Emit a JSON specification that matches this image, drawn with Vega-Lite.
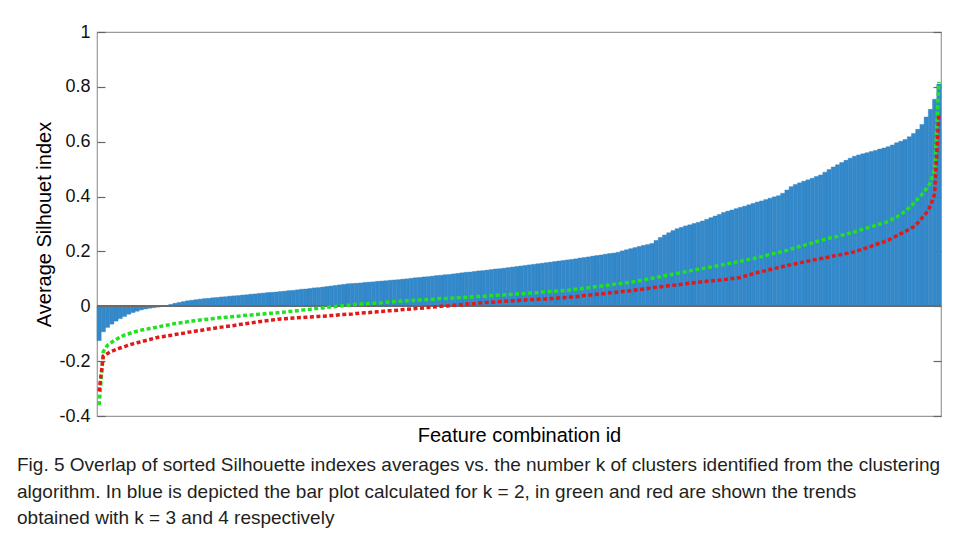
{
  "$schema": "https://vega.github.io/schema/vega-lite/v6.json",
  "width": 844,
  "height": 384,
  "autosize": {"type": "none"},
  "padding": {"left": 97, "top": 32, "right": 15, "bottom": 122},
  "background": "white",
  "config": {"view": {"stroke": "#9a9a9a", "strokeWidth": 1.2}},
  "title": {
    "text": [
      "Fig. 5  Overlap of sorted Silhouette indexes averages vs. the number k of clusters identified from the clustering",
      "algorithm. In blue is depicted the bar plot calculated for k = 2, in green and red are shown the trends",
      "obtained with k = 3 and 4 respectively"
    ],
    "orient": "bottom",
    "anchor": "start",
    "frame": "group",
    "dx": -80,
    "offset": 11,
    "baseline": "top",
    "font": "Liberation Sans",
    "fontSize": 19,
    "fontWeight": "normal",
    "lineHeight": 26.5,
    "color": "#231f20"
  },
  "data": {"values": [
    {"id":1,"k2":-0.125,"k3":-0.36,"k4":-0.31},
    {"id":2,"k2":-0.093,"k3":-0.165,"k4":-0.181},
    {"id":3,"k2":-0.077,"k3":-0.142,"k4":-0.172},
    {"id":4,"k2":-0.065,"k3":-0.131,"k4":-0.164},
    {"id":5,"k2":-0.054,"k3":-0.121,"k4":-0.158},
    {"id":6,"k2":-0.045,"k3":-0.112,"k4":-0.152},
    {"id":7,"k2":-0.037,"k3":-0.105,"k4":-0.147},
    {"id":8,"k2":-0.029,"k3":-0.100,"k4":-0.142},
    {"id":9,"k2":-0.023,"k3":-0.095,"k4":-0.137},
    {"id":10,"k2":-0.018,"k3":-0.091,"k4":-0.133},
    {"id":11,"k2":-0.013,"k3":-0.087,"k4":-0.129},
    {"id":12,"k2":-0.010,"k3":-0.084,"k4":-0.125},
    {"id":13,"k2":-0.007,"k3":-0.081,"k4":-0.121},
    {"id":14,"k2":-0.005,"k3":-0.078,"k4":-0.117},
    {"id":15,"k2":-0.003,"k3":-0.075,"k4":-0.113},
    {"id":16,"k2":0.000,"k3":-0.072,"k4":-0.111},
    {"id":17,"k2":0.003,"k3":-0.069,"k4":-0.108},
    {"id":18,"k2":0.007,"k3":-0.066,"k4":-0.106},
    {"id":19,"k2":0.011,"k3":-0.063,"k4":-0.103},
    {"id":20,"k2":0.014,"k3":-0.061,"k4":-0.100},
    {"id":21,"k2":0.017,"k3":-0.059,"k4":-0.098},
    {"id":22,"k2":0.020,"k3":-0.056,"k4":-0.095},
    {"id":23,"k2":0.022,"k3":-0.054,"k4":-0.093},
    {"id":24,"k2":0.024,"k3":-0.052,"k4":-0.090},
    {"id":25,"k2":0.026,"k3":-0.050,"k4":-0.088},
    {"id":26,"k2":0.028,"k3":-0.048,"k4":-0.085},
    {"id":27,"k2":0.029,"k3":-0.047,"k4":-0.083},
    {"id":28,"k2":0.031,"k3":-0.045,"k4":-0.081},
    {"id":29,"k2":0.032,"k3":-0.043,"k4":-0.078},
    {"id":30,"k2":0.034,"k3":-0.041,"k4":-0.076},
    {"id":31,"k2":0.035,"k3":-0.040,"k4":-0.074},
    {"id":32,"k2":0.037,"k3":-0.039,"k4":-0.072},
    {"id":33,"k2":0.038,"k3":-0.037,"k4":-0.070},
    {"id":34,"k2":0.039,"k3":-0.036,"k4":-0.067},
    {"id":35,"k2":0.041,"k3":-0.034,"k4":-0.065},
    {"id":36,"k2":0.042,"k3":-0.033,"k4":-0.063},
    {"id":37,"k2":0.044,"k3":-0.032,"k4":-0.061},
    {"id":38,"k2":0.045,"k3":-0.030,"k4":-0.058},
    {"id":39,"k2":0.047,"k3":-0.029,"k4":-0.056},
    {"id":40,"k2":0.048,"k3":-0.028,"k4":-0.054},
    {"id":41,"k2":0.050,"k3":-0.026,"k4":-0.052},
    {"id":42,"k2":0.051,"k3":-0.025,"k4":-0.050},
    {"id":43,"k2":0.052,"k3":-0.024,"k4":-0.048},
    {"id":44,"k2":0.054,"k3":-0.022,"k4":-0.046},
    {"id":45,"k2":0.055,"k3":-0.021,"k4":-0.045},
    {"id":46,"k2":0.057,"k3":-0.019,"k4":-0.044},
    {"id":47,"k2":0.058,"k3":-0.018,"k4":-0.043},
    {"id":48,"k2":0.060,"k3":-0.016,"k4":-0.042},
    {"id":49,"k2":0.062,"k3":-0.014,"k4":-0.041},
    {"id":50,"k2":0.063,"k3":-0.012,"k4":-0.040},
    {"id":51,"k2":0.065,"k3":-0.011,"k4":-0.039},
    {"id":52,"k2":0.067,"k3":-0.009,"k4":-0.038},
    {"id":53,"k2":0.068,"k3":-0.007,"k4":-0.037},
    {"id":54,"k2":0.070,"k3":-0.006,"k4":-0.036},
    {"id":55,"k2":0.072,"k3":-0.004,"k4":-0.035},
    {"id":56,"k2":0.074,"k3":-0.002,"k4":-0.034},
    {"id":57,"k2":0.076,"k3":-0.001,"k4":-0.033},
    {"id":58,"k2":0.078,"k3":0.001,"k4":-0.031},
    {"id":59,"k2":0.080,"k3":0.003,"k4":-0.030},
    {"id":60,"k2":0.082,"k3":0.004,"k4":-0.029},
    {"id":61,"k2":0.083,"k3":0.005,"k4":-0.028},
    {"id":62,"k2":0.084,"k3":0.007,"k4":-0.026},
    {"id":63,"k2":0.085,"k3":0.008,"k4":-0.025},
    {"id":64,"k2":0.087,"k3":0.009,"k4":-0.024},
    {"id":65,"k2":0.088,"k3":0.010,"k4":-0.023},
    {"id":66,"k2":0.089,"k3":0.011,"k4":-0.021},
    {"id":67,"k2":0.091,"k3":0.012,"k4":-0.020},
    {"id":68,"k2":0.092,"k3":0.013,"k4":-0.019},
    {"id":69,"k2":0.093,"k3":0.015,"k4":-0.017},
    {"id":70,"k2":0.095,"k3":0.016,"k4":-0.016},
    {"id":71,"k2":0.096,"k3":0.017,"k4":-0.015},
    {"id":72,"k2":0.097,"k3":0.018,"k4":-0.014},
    {"id":73,"k2":0.099,"k3":0.019,"k4":-0.012},
    {"id":74,"k2":0.100,"k3":0.020,"k4":-0.011},
    {"id":75,"k2":0.102,"k3":0.021,"k4":-0.010},
    {"id":76,"k2":0.104,"k3":0.022,"k4":-0.008},
    {"id":77,"k2":0.105,"k3":0.023,"k4":-0.007},
    {"id":78,"k2":0.107,"k3":0.024,"k4":-0.006},
    {"id":79,"k2":0.108,"k3":0.025,"k4":-0.004},
    {"id":80,"k2":0.110,"k3":0.026,"k4":-0.003},
    {"id":81,"k2":0.112,"k3":0.027,"k4":-0.002},
    {"id":82,"k2":0.113,"k3":0.028,"k4":0.000},
    {"id":83,"k2":0.115,"k3":0.028,"k4":0.001},
    {"id":84,"k2":0.116,"k3":0.029,"k4":0.002},
    {"id":85,"k2":0.118,"k3":0.030,"k4":0.004},
    {"id":86,"k2":0.120,"k3":0.031,"k4":0.005},
    {"id":87,"k2":0.122,"k3":0.032,"k4":0.006},
    {"id":88,"k2":0.124,"k3":0.033,"k4":0.008},
    {"id":89,"k2":0.125,"k3":0.034,"k4":0.009},
    {"id":90,"k2":0.127,"k3":0.035,"k4":0.010},
    {"id":91,"k2":0.129,"k3":0.036,"k4":0.012},
    {"id":92,"k2":0.130,"k3":0.037,"k4":0.013},
    {"id":93,"k2":0.132,"k3":0.038,"k4":0.014},
    {"id":94,"k2":0.134,"k3":0.039,"k4":0.015},
    {"id":95,"k2":0.136,"k3":0.040,"k4":0.016},
    {"id":96,"k2":0.137,"k3":0.041,"k4":0.017},
    {"id":97,"k2":0.139,"k3":0.042,"k4":0.018},
    {"id":98,"k2":0.141,"k3":0.043,"k4":0.019},
    {"id":99,"k2":0.143,"k3":0.044,"k4":0.020},
    {"id":100,"k2":0.145,"k3":0.045,"k4":0.021},
    {"id":101,"k2":0.147,"k3":0.046,"k4":0.022},
    {"id":102,"k2":0.149,"k3":0.047,"k4":0.023},
    {"id":103,"k2":0.151,"k3":0.048,"k4":0.024},
    {"id":104,"k2":0.153,"k3":0.049,"k4":0.025},
    {"id":105,"k2":0.155,"k3":0.050,"k4":0.026},
    {"id":106,"k2":0.157,"k3":0.052,"k4":0.027},
    {"id":107,"k2":0.159,"k3":0.053,"k4":0.027},
    {"id":108,"k2":0.161,"k3":0.054,"k4":0.028},
    {"id":109,"k2":0.163,"k3":0.055,"k4":0.029},
    {"id":110,"k2":0.165,"k3":0.056,"k4":0.030},
    {"id":111,"k2":0.167,"k3":0.057,"k4":0.031},
    {"id":112,"k2":0.169,"k3":0.058,"k4":0.032},
    {"id":113,"k2":0.171,"k3":0.060,"k4":0.034},
    {"id":114,"k2":0.173,"k3":0.062,"k4":0.035},
    {"id":115,"k2":0.176,"k3":0.064,"k4":0.037},
    {"id":116,"k2":0.178,"k3":0.066,"k4":0.039},
    {"id":117,"k2":0.180,"k3":0.068,"k4":0.040},
    {"id":118,"k2":0.183,"k3":0.070,"k4":0.042},
    {"id":119,"k2":0.185,"k3":0.072,"k4":0.044},
    {"id":120,"k2":0.187,"k3":0.074,"k4":0.045},
    {"id":121,"k2":0.190,"k3":0.076,"k4":0.047},
    {"id":122,"k2":0.192,"k3":0.078,"k4":0.049},
    {"id":123,"k2":0.194,"k3":0.080,"k4":0.050},
    {"id":124,"k2":0.197,"k3":0.082,"k4":0.052},
    {"id":125,"k2":0.202,"k3":0.084,"k4":0.054},
    {"id":126,"k2":0.206,"k3":0.086,"k4":0.055},
    {"id":127,"k2":0.210,"k3":0.088,"k4":0.057},
    {"id":128,"k2":0.214,"k3":0.090,"k4":0.059},
    {"id":129,"k2":0.218,"k3":0.093,"k4":0.061},
    {"id":130,"k2":0.222,"k3":0.096,"k4":0.063},
    {"id":131,"k2":0.225,"k3":0.099,"k4":0.065},
    {"id":132,"k2":0.229,"k3":0.102,"k4":0.067},
    {"id":133,"k2":0.240,"k3":0.105,"k4":0.069},
    {"id":134,"k2":0.251,"k3":0.108,"k4":0.071},
    {"id":135,"k2":0.260,"k3":0.111,"k4":0.073},
    {"id":136,"k2":0.268,"k3":0.114,"k4":0.075},
    {"id":137,"k2":0.276,"k3":0.117,"k4":0.077},
    {"id":138,"k2":0.283,"k3":0.120,"k4":0.078},
    {"id":139,"k2":0.288,"k3":0.123,"k4":0.080},
    {"id":140,"k2":0.293,"k3":0.126,"k4":0.082},
    {"id":141,"k2":0.297,"k3":0.129,"k4":0.084},
    {"id":142,"k2":0.302,"k3":0.132,"k4":0.086},
    {"id":143,"k2":0.306,"k3":0.135,"k4":0.088},
    {"id":144,"k2":0.311,"k3":0.138,"k4":0.090},
    {"id":145,"k2":0.317,"k3":0.141,"k4":0.091},
    {"id":146,"k2":0.323,"k3":0.143,"k4":0.092},
    {"id":147,"k2":0.329,"k3":0.146,"k4":0.094},
    {"id":148,"k2":0.335,"k3":0.149,"k4":0.095},
    {"id":149,"k2":0.342,"k3":0.152,"k4":0.097},
    {"id":150,"k2":0.347,"k3":0.155,"k4":0.099},
    {"id":151,"k2":0.351,"k3":0.158,"k4":0.101},
    {"id":152,"k2":0.356,"k3":0.161,"k4":0.103},
    {"id":153,"k2":0.361,"k3":0.164,"k4":0.105},
    {"id":154,"k2":0.365,"k3":0.167,"k4":0.110},
    {"id":155,"k2":0.370,"k3":0.171,"k4":0.114},
    {"id":156,"k2":0.375,"k3":0.174,"k4":0.119},
    {"id":157,"k2":0.380,"k3":0.178,"k4":0.123},
    {"id":158,"k2":0.384,"k3":0.181,"k4":0.127},
    {"id":159,"k2":0.389,"k3":0.185,"k4":0.130},
    {"id":160,"k2":0.394,"k3":0.189,"k4":0.134},
    {"id":161,"k2":0.399,"k3":0.193,"k4":0.138},
    {"id":162,"k2":0.403,"k3":0.196,"k4":0.141},
    {"id":163,"k2":0.412,"k3":0.200,"k4":0.145},
    {"id":164,"k2":0.424,"k3":0.204,"k4":0.149},
    {"id":165,"k2":0.436,"k3":0.209,"k4":0.152},
    {"id":166,"k2":0.444,"k3":0.213,"k4":0.155},
    {"id":167,"k2":0.450,"k3":0.218,"k4":0.158},
    {"id":168,"k2":0.456,"k3":0.222,"k4":0.162},
    {"id":169,"k2":0.461,"k3":0.227,"k4":0.165},
    {"id":170,"k2":0.467,"k3":0.231,"k4":0.168},
    {"id":171,"k2":0.473,"k3":0.236,"k4":0.171},
    {"id":172,"k2":0.479,"k3":0.240,"k4":0.174},
    {"id":173,"k2":0.489,"k3":0.244,"k4":0.177},
    {"id":174,"k2":0.499,"k3":0.248,"k4":0.180},
    {"id":175,"k2":0.508,"k3":0.252,"k4":0.183},
    {"id":176,"k2":0.516,"k3":0.255,"k4":0.186},
    {"id":177,"k2":0.524,"k3":0.259,"k4":0.189},
    {"id":178,"k2":0.532,"k3":0.263,"k4":0.192},
    {"id":179,"k2":0.540,"k3":0.267,"k4":0.195},
    {"id":180,"k2":0.547,"k3":0.271,"k4":0.199},
    {"id":181,"k2":0.552,"k3":0.276,"k4":0.204},
    {"id":182,"k2":0.556,"k3":0.281,"k4":0.209},
    {"id":183,"k2":0.560,"k3":0.286,"k4":0.214},
    {"id":184,"k2":0.564,"k3":0.290,"k4":0.219},
    {"id":185,"k2":0.568,"k3":0.295,"k4":0.225},
    {"id":186,"k2":0.573,"k3":0.300,"k4":0.230},
    {"id":187,"k2":0.577,"k3":0.304,"k4":0.235},
    {"id":188,"k2":0.582,"k3":0.309,"k4":0.241},
    {"id":189,"k2":0.588,"k3":0.318,"k4":0.249},
    {"id":190,"k2":0.596,"k3":0.326,"k4":0.257},
    {"id":191,"k2":0.602,"k3":0.336,"k4":0.265},
    {"id":192,"k2":0.608,"k3":0.346,"k4":0.273},
    {"id":193,"k2":0.618,"k3":0.360,"k4":0.281},
    {"id":194,"k2":0.630,"k3":0.375,"k4":0.290},
    {"id":195,"k2":0.645,"k3":0.392,"k4":0.304},
    {"id":196,"k2":0.663,"k3":0.408,"k4":0.322},
    {"id":197,"k2":0.690,"k3":0.428,"k4":0.340},
    {"id":198,"k2":0.718,"k3":0.451,"k4":0.366},
    {"id":199,"k2":0.755,"k3":0.500,"k4":0.410},
    {"id":200,"k2":0.810,"k3":0.818,"k4":0.704}
  ]},
  "resolve": {"axis": {"y": "independent"}},
  "layer": [
    {
      "mark": {"type": "bar", "color": "#3389ca", "stroke": "#2c7dbf", "strokeWidth": 0.4},
      "encoding": {
        "x": {
          "field": "id", "type": "ordinal",
          "scale": {"paddingInner": 0, "paddingOuter": 0},
          "axis": {
            "labels": false, "ticks": false, "domain": false,
            "title": "Feature combination id",
            "titleFont": "Liberation Sans", "titleFontSize": 20, "titleFontWeight": "normal",
            "titleColor": "#000", "titlePadding": 9
          }
        },
        "y": {
          "field": "k2", "type": "quantitative",
          "scale": {"domain": [-0.4, 1], "nice": false, "zero": false},
          "axis": {
            "values": [-0.4, -0.2, 0, 0.2, 0.4, 0.6, 0.8, 1],
            "format": "~g",
            "labelExpr": "replace(datum.label, '\u2212', '-')",
            "grid": false, "domain": false,
            "tickSize": -8, "tickColor": "#666", "tickWidth": 1.2,
            "labelPadding": 15,
            "labelFont": "Liberation Sans", "labelFontSize": 18, "labelColor": "#111",
            "title": "Average Silhouet index",
            "titleFont": "Liberation Sans", "titleFontSize": 20, "titleFontWeight": "normal",
            "titleColor": "#000", "titlePadding": 4
          }
        }
      }
    },
    {
      "mark": {"type": "rule", "color": "#6a6a6a", "strokeWidth": 1},
      "encoding": {"y": {"datum": 0, "type": "quantitative", "axis": null}}
    },
    {
      "mark": {"type": "line", "color": "#22e022", "strokeWidth": 3.5, "strokeDash": [4, 2.5]},
      "encoding": {
        "x": {"field": "id", "type": "ordinal"},
        "y": {"field": "k3", "type": "quantitative", "axis": null}
      }
    },
    {
      "mark": {"type": "line", "color": "#e01a1a", "strokeWidth": 3.5, "strokeDash": [4, 2.5]},
      "encoding": {
        "x": {"field": "id", "type": "ordinal"},
        "y": {
          "field": "k4", "type": "quantitative",
          "axis": {
            "orient": "right", "values": [-0.4, -0.2, 0, 0.2, 0.4, 0.6, 0.8, 1],
            "labels": false, "grid": false, "domain": false, "title": null,
            "tickSize": -8, "tickColor": "#666", "tickWidth": 1.2
          }
        }
      }
    }
  ]
}
